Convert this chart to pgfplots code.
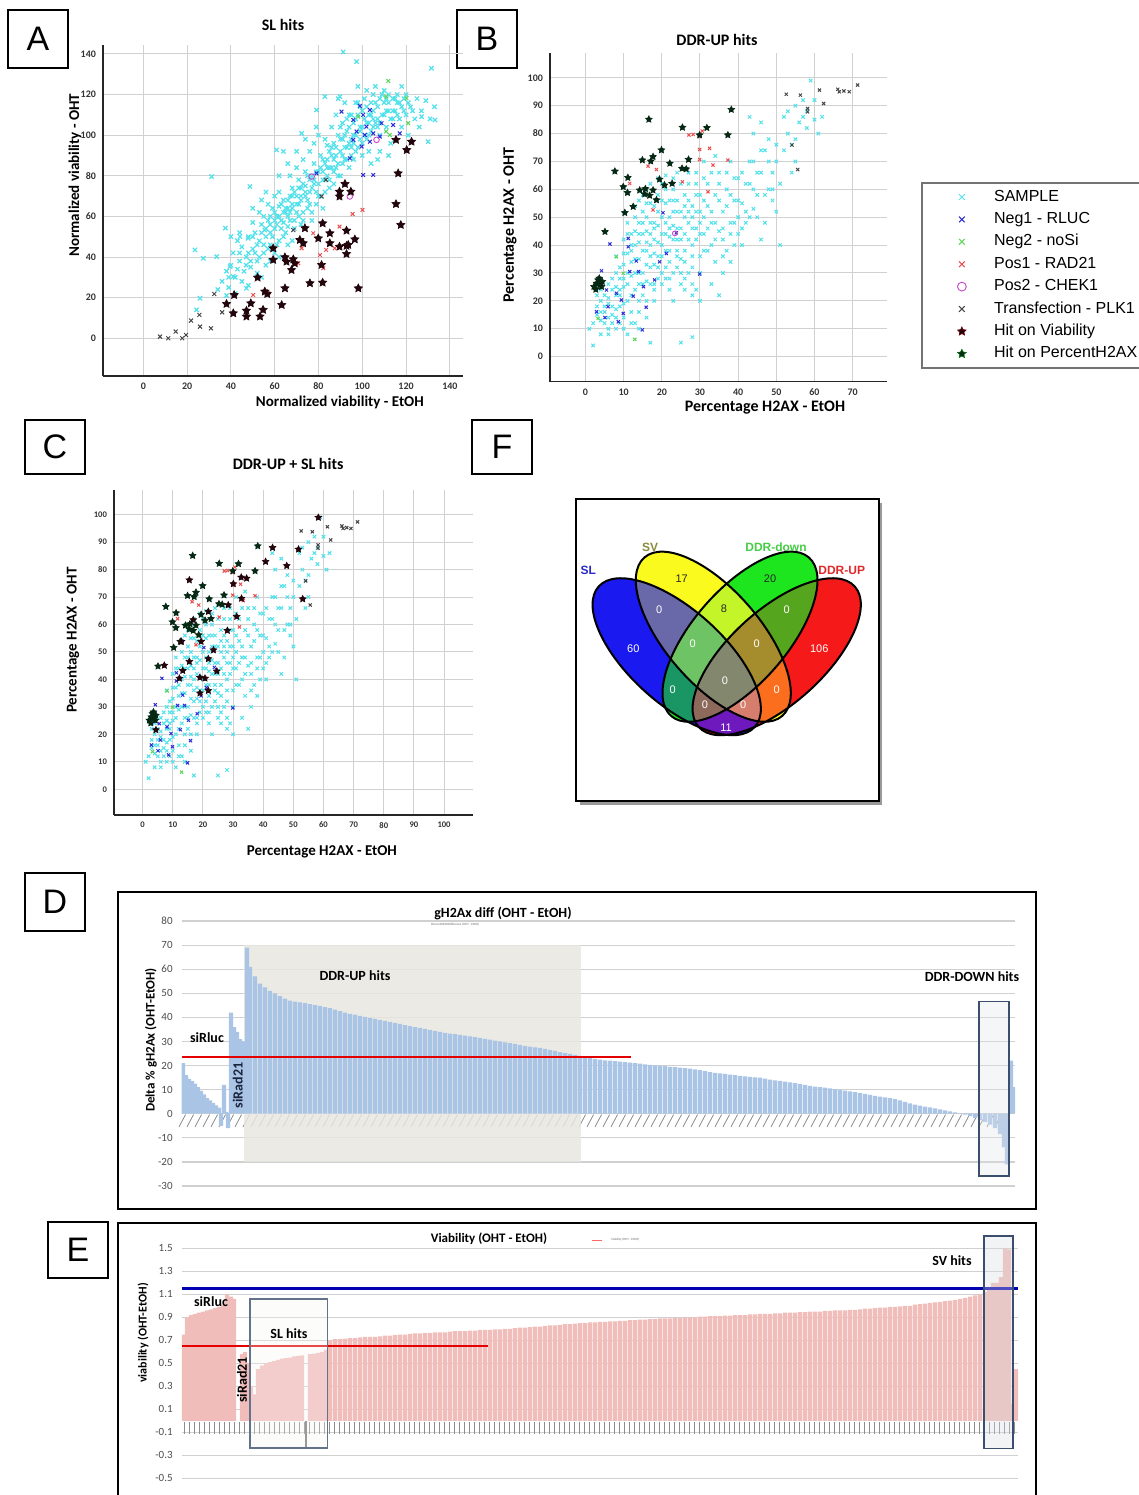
\documentclass[border=0pt]{standalone}
\usepackage{fontspec}
\setmainfont{Carlito}
\newfontfamily\arialf{Liberation Sans}
\usepackage{pgfplots}
\usepackage{pgfplotstable}
\pgfplotsset{compat=1.18}
\newcommand{\fs}[1]{\fontsize{#1}{#1}\selectfont}

\definecolor{cSample}{RGB}{80,225,235}
\definecolor{cNeg1}{RGB}{45,45,215}
\definecolor{cNeg2}{RGB}{90,215,90}
\definecolor{cPos1}{RGB}{235,80,80}
\definecolor{cPos2}{RGB}{200,70,200}
\definecolor{cPLK}{RGB}{70,70,70}
\definecolor{cHitV}{RGB}{35,5,12}
\definecolor{cHitH}{RGB}{5,40,20}
\definecolor{gridc}{RGB}{208,208,208}
\definecolor{barD}{RGB}{170,196,229}
\definecolor{barE}{RGB}{241,189,186}
\definecolor{shadeD}{RGB}{232,230,224}
\definecolor{boxc}{RGB}{60,78,110}
\definecolor{cvSL}{RGB}{25,25,240}
\definecolor{cvSV}{RGB}{250,250,30}
\definecolor{cvDD}{RGB}{30,230,30}
\definecolor{cvDU}{RGB}{245,25,25}
\definecolor{cvSLSV}{RGB}{105,105,170}
\definecolor{cvSVDD}{RGB}{195,245,40}
\definecolor{cvDDDU}{RGB}{85,165,30}
\definecolor{cvSLDD}{RGB}{25,150,100}
\definecolor{cvSVDU}{RGB}{250,110,30}
\definecolor{cvSLDU}{RGB}{110,25,190}
\definecolor{cvSLSVDD}{RGB}{110,195,100}
\definecolor{cvSVDDDU}{RGB}{165,140,45}
\definecolor{cvSLDDDU}{RGB}{140,105,90}
\definecolor{cvSLSVDU}{RGB}{215,125,110}
\definecolor{cvALL}{RGB}{130,135,110}

\pgfdeclareplotmark{fstar}{%
 \pgfpathmoveto{\pgfpointpolar{90}{\pgfplotmarksize}}%
 \pgfpathlineto{\pgfpointpolar{126}{0.5\pgfplotmarksize}}%
 \pgfpathlineto{\pgfpointpolar{162}{\pgfplotmarksize}}%
 \pgfpathlineto{\pgfpointpolar{198}{0.5\pgfplotmarksize}}%
 \pgfpathlineto{\pgfpointpolar{234}{\pgfplotmarksize}}%
 \pgfpathlineto{\pgfpointpolar{270}{0.5\pgfplotmarksize}}%
 \pgfpathlineto{\pgfpointpolar{306}{\pgfplotmarksize}}%
 \pgfpathlineto{\pgfpointpolar{342}{0.5\pgfplotmarksize}}%
 \pgfpathlineto{\pgfpointpolar{18}{\pgfplotmarksize}}%
 \pgfpathlineto{\pgfpointpolar{54}{0.5\pgfplotmarksize}}%
 \pgfpathclose
 \pgfusepathqfillstroke}

\pgfplotsset{
 scat/.style={scale only axis, axis lines=left, axis line style={-,black!85,line width=0.7pt},
   grid=major, major grid style={gridc,line width=0.5pt}, major tick length=0pt,
   tick label style={font=\fs{5}\bfseries, text=black!80},
   /pgf/number format/assume math mode=true, enlargelimits=false,
   every axis title shift=0pt,
   title style={font=\fs{8}\bfseries}, label style={font=\fs{7.5}\bfseries}},
 pS/.style={only marks, mark=x, mark size=1.5pt, color=cSample, mark options={line width=0.6pt}},
 pN1/.style={only marks, mark=x, mark size=1.3pt, color=cNeg1, mark options={line width=0.5pt}},
 pN2/.style={only marks, mark=x, mark size=1.3pt, color=cNeg2, mark options={line width=0.5pt}},
 pP1/.style={only marks, mark=x, mark size=1.3pt, color=cPos1, mark options={line width=0.5pt}},
 pP2/.style={only marks, mark=o, mark size=1.4pt, color=cPos2, mark options={line width=0.45pt}},
 pPLK/.style={only marks, mark=x, mark size=1.4pt, color=cPLK, mark options={line width=0.5pt}},
 pHV/.style={only marks, mark=fstar, mark size=2.1pt, color=cHitV, mark options={line width=0.35pt, fill=cHitV}},
 pHH/.style={only marks, mark=fstar, mark size=1.8pt, color=cHitH, mark options={line width=0.35pt, fill=cHitH}},
 barax/.style={scale only axis, axis x line=middle, axis y line=left, axis line style={draw=none},
   hide obscured x ticks=false, hide obscured y ticks=false,
   ymajorgrids, major grid style={gridc,line width=0.6pt}, major tick length=0pt,
   yticklabel style={font=\fs{5.5}, text=black!70, xshift=-1pt},
   /pgf/number format/assume math mode=true, enlargelimits=false, clip mode=individual},
}

% ---------- shared data of panels B and C (Percentage H2AX EtOH vs OHT)
\pgfplotstableread{
x y
2 12
3 15
3 18
4 13
4 20
5 16
5 22
6 14
6 19
7 12
7 24
8 17
1 10
2 4
4 8
8 22
9 28
9 18
10 33
10 25
11 20
11 37
12 29
12 44
13 24
13 40
14 35
14 48
8 30
10 42
12 16
14 20
9 12
11 8
13 12
15 30
15 52
16 38
16 45
17 26
17 55
18 33
18 48
19 41
19 58
20 36
20 50
15 22
17 44
19 28
16 60
18 20
20 62
14 56
16 14
21 44
21 55
22 38
22 50
23 30
23 60
24 46
24 42
25 52
25 35
26 58
26 44
21 65
23 20
25 26
22 24
24 66
26 38
27 48
27 62
28 40
28 54
29 46
29 66
30 36
30 58
31 50
31 44
32 62
32 54
27 30
29 24
31 70
28 22
30 20
33 48
33 40
34 58
35 45
35 66
36 52
37 38
37 60
38 48
39 56
40 44
34 72
36 36
38 70
40 64
33 26
35 22
39 40
41 55
42 62
42 48
43 70
44 53
45 58
46 42
47 74
48 60
49 66
50 52
44 80
46 84
48 78
41 40
50 70
43 86
51 62
51 40
52 86
53 80
54 66
55 70
56 84
57 92
58 88
58 82
59 99
60 85
55 78
25 5
28 7
17 5
14 10
11 30
12 34
13 45
14 41
15 38
16 33
17 36
18 42
19 47
20 44
21 38
22 43
23 47
24 52
15 44
16 50
17 48
18 54
19 36
20 30
21 32
22 56
23 52
13 30
14 26
16 27
18 26
12 38
10 28
9 24
7 18
6 26
8 36
27 56
28 46
26 50
29 52
30 48
24 36
25 42
5 18
6 21
7 15
7 28
8 25
8 14
9 22
9 32
10 19
10 37
11 26
11 44
12 22
12 40
13 35
13 50
14 30
14 44
15 26
15 48
16 41
16 55
17 32
17 40
18 37
18 46
19 32
19 52
20 40
20 56
21 48
21 28
22 46
22 34
23 42
23 56
24 38
24 56
25 46
25 30
26 54
26 34
27 42
27 52
28 50
28 36
29 42
29 58
30 44
30 52
31 56
31 38
32 46
33 52
34 48
35 56
36 46
37 54
38 58
39 48
40 56
42 52
44 60
46 66
48 70
52 74
54 76
10 14
12 12
14 16
16 20
18 24
20 26
22 28
24 32
26 28
28 32
30 30
32 38
34 42
36 42
38 44
40 50
11 48
13 54
15 58
17 62
19 64
21 60
23 64
25 62
27 66
29 62
31 64
33 66
35 62
37 66
39 64
41 66
43 62
45 66
47 58
49 56
4 16
5 12
6 10
3 22
4 24
6 8
8 10
10 10
26 24
28 26
34 34
36 30
38 34
41 46
43 50
45 50
47 48
49 60
44 70
46 74
50 76
53 88
55 90
57 86
60 92
62 86
61 80
}\tabHsample
\pgfplotstableread{
x y
6.4 40.4
11.2 42.4
11.2 39.4
13.3 34.3
13.9 30.5
15.2 25.1
15.9 17.7
8.1 22.7
5.9 17.9
2.9 16.1
5.1 14.0
9.9 15.5
9.4 20.3
12.5 21.7
20.3 51.6
23.8 44.4
29.9 29.6
14.9 9.6
4.2 30.8
11.6 30.5
18.1 27.5
5.5 23.9
8.6 12.5
19.4 34.0
21.2 37.0
}\tabHneg
\pgfplotstableread{
x y
12.9 6.2
8.1 35.8
3.3 13.7
9.9 29.9
}\tabHnegtwo
\pgfplotstableread{
x y
27.1 79.5
28.2 79.7
29.9 78.9
30.6 80.9
29.9 74.3
32.5 74.7
33.4 68.7
37.3 70.5
18.6 67.1
16.4 68.3
11.6 62.1
32.1 59.1
25.4 62.7
17.7 52.6
29.9 70.7
}\tabHpos
\pgfplotstableread{
x y
52.6 94.1
56.3 93.8
61.3 95.6
62.4 90.8
58.2 89.0
58.2 87.8
66.1 95.9
66.5 95.0
67.7 95.3
69.1 95.0
71.3 97.4
54.1 75.9
55.6 67.1
}\tabHplk
\pgfplotstableread{
x y
38.2 88.6
16.6 85.1
25.4 82.2
31.8 82.1
37.3 79.5
29.9 79.5
19.9 74.1
27.0 70.7
22.1 69.3
14.9 70.5
17.1 70.1
17.7 71.7
7.7 66.5
11.1 64.2
22.7 62.1
19.4 63.6
20.7 61.5
25.3 67.5
26.4 67.3
11.0 58.8
9.9 60.9
14.2 59.7
15.7 60.2
15.5 58.3
17.7 59.7
16.8 57.8
18.6 56.2
12.5 53.8
10.3 51.6
5.1 44.8
3.3 27.5
3.7 25.7
2.7 24.1
4.2 25.1
2.9 26.3
3.6 28.1
2.2 25.1
4.4 26.9
}\tabHhit

\newcommand{\eSL}{[rotate around={-42:(axis cs:676.7,656.7)}] (axis cs:676.7,656.7) ellipse [x radius=52.5pt, y radius=23.5pt]}
\newcommand{\eSV}{[rotate around={-49:(axis cs:713.3,636.7)}] (axis cs:713.3,636.7) ellipse [x radius=52.5pt, y radius=23.5pt]}
\newcommand{\eDD}{[rotate around={49:(axis cs:740,636.7)}] (axis cs:740,636.7) ellipse [x radius=52.5pt, y radius=23.5pt]}
\newcommand{\eDU}{[rotate around={42:(axis cs:776.7,656.7)}] (axis cs:776.7,656.7) ellipse [x radius=52.5pt, y radius=23.5pt]}

\begin{document}
\begin{tikzpicture}
\path[use as bounding box] (0,0) rectangle (569.5pt,-747.5pt);

\begin{scope}[x=0.5pt,y=-0.5pt]
\tikzset{lbox/.style={draw, line width=0.8pt, minimum width=30pt, inner sep=0pt, font=\arialf\fs{17}}}
\node[lbox, minimum height=29pt] at (38,39) {A};
\node[lbox, minimum height=29pt] at (487,39) {B};
\node[lbox, minimum height=27pt] at (55,447) {C};
\node[lbox, minimum height=27pt] at (502,447) {F};
\node[lbox, minimum height=29pt] at (55,902) {D};
\node[lbox, minimum height=28pt] at (78,1250) {E};
\draw[line width=1.3pt] (118,892) rectangle (1036,1209);
\draw[line width=1.3pt] (118,1223) rectangle (1036,1510);
\fill[black!40] (580,503) rectangle (882,805);
\filldraw[fill=white, draw=black, line width=1.1pt] (576,499) rectangle (879,801);
\end{scope}

% ================= Panel A
\begin{axis}[scat, at={(51.5pt,-188pt)}, anchor=south west, width=180pt, height=165.5pt,
  xmin=-18.4, xmax=146, ymin=-18.6, ymax=144.4, xtick={0,20,...,140}, ytick={0,20,...,140},
  title={SL hits}, xlabel={Normalized viability - EtOH}, ylabel={Normalized viability - OHT},
  title style={at={(axis description cs:0.5,1.06)}, anchor=center},
  xlabel style={at={(axis description cs:0.658,-0.0785)}, anchor=center},
  ylabel style={at={(axis description cs:-0.078,0.607)}, anchor=center}]
\addplot[pS] table {
x y
36 28
38 33
40 36
42 30
44 38
41 42
45 45
39 25
43 48
46 33
47 40
48 50
50 44
51 52
52 38
53 48
54 56
55 42
49 35
55 60
53 62
50 57
56 50
57 58
58 46
59 64
60 54
61 60
62 48
63 66
64 57
65 62
57 66
60 70
62 72
58 52
64 50
66 55
66 68
67 62
68 74
69 58
70 66
71 78
72 70
73 62
74 75
75 68
67 80
70 84
72 56
74 82
68 64
73 88
71 60
76 72
77 80
78 86
79 66
80 76
81 90
82 82
83 72
84 88
85 78
76 92
78 96
80 100
82 64
84 95
77 58
79 104
83 98
85 84
86 90
87 96
88 84
89 100
90 92
91 106
92 88
93 102
94 96
95 110
86 104
88 110
90 80
92 116
94 84
87 76
91 98
95 90
89 118
93 108
96 100
97 108
98 94
99 114
100 104
101 118
102 98
103 110
104 102
105 120
96 88
98 124
100 90
102 122
104 86
97 116
99 98
103 92
101 108
105 112
106 106
107 114
108 100
109 120
110 110
111 104
112 116
113 96
114 108
115 118
106 124
108 92
110 122
112 90
114 112
107 88
116 110
117 116
118 104
119 112
120 120
121 100
122 114
124 108
118 124
125 118
127 112
129 117
131 108
133 114
126 104
45 28
48 26
52 32
54 30
58 38
60 42
56 36
62 40
66 46
68 48
42 22
38 21
34 24
40 50
44 52
50 64
56 72
62 80
66 86
70 92
74 98
64 92
60.9 92.7
72.3 100.9
79.1 112.4
82.9 119
89.8 119
91.3 141
97.4 136.2
131.6 132.9
127.1 109.1
133.2 107.5
130.1 96.8
31.2 79.6
23.6 43.5
27.4 39.4
33.5 40.2
37.5 54.2
25.9 19.7
24.3 14
39.6 35.3
44.1 50.1
47.9 49.2
41.1 30.4
47.1 24.6
55.5 53.3
54 68.1
48.7 74.7
58 60
60 62
61 56
62 65
63 58
64 68
65 64
66 60
67 70
68 66
69 72
70 62
71 74
72 68
73 76
74 70
75 80
76 66
77 74
78 78
79 82
80 70
81 84
82 78
83 86
84 80
85 92
86 84
87 88
88 94
89 86
90 98
91 90
92 100
93 94
94 104
95 98
96 106
97 100
98 110
99 104
100 112
101 100
102 114
103 106
104 116
105 108
106 116
107 104
108 118
109 110
110 116
111 112
112 120
113 108
114 118
115 112
116 120
117 108
118 114
119 118
120 110
121 116
123 112
102 106
96 96
92 94
88 90
84 84
80 82
76 78
72 74
68 70
64 62
60 58
56 54
52 46
48 42
44 42
50 50
54 52
58 56
62 60
66 64
70 70
74 72
78 76
82 88
86 94
90 104
94 110
98 116
100 96
104 110
108 106
112 112
116 116
87 82
83 78
79 72
75 64
71 66
67 58
63 54
59 50
55 46
51 42
47 36
43 34
39 30
91 86
95 94
99 102
103 100
107 108
111 118
105 104
97 92
93 88
89 80
85 74
81 70
77 62
73 58
69 54
65 52
61 46
57 44
53 40
49 38
};
\addplot[pN1] table {
x y
98.9 114.4
103.5 112.4
90.5 111.6
100.4 110
95.9 107.5
101.9 104.2
97.4 101.8
101.2 100.1
105 100.9
108 99.3
95.9 97.7
103.5 96.8
99.7 94.4
94.3 88.6
108.8 105.9
114.1 105
117.1 100.9
100.4 80.4
105 80.4
79.1 81.2
};
\addplot[pN2] table {
x y
111.9 126.7
110.9 119
120.2 118.2
121 105.9
98.2 109.1
110.9 101.8
112.6 100.1
};
\addplot[pP1] table {
x y
100.1 63.2
95.6 61.2
89.6 55
77.6 51.7
72.3 44.3
80.7 41
83.5 43.5
87.4 44.3
82.2 34.5
50.2 21.3
57.1 22.2
70.8 36.9
};
\addplot[pP2] table {
x y
76.9 79.6
94.3 69.8
106.5 97.7
};
\addplot[pPLK] table {
x y
7.6 0.8
11.4 0
14.8 3.3
17.8 0
19.5 1.6
21.8 8.7
25.6 11.5
25.9 5.7
30.9 4.9
32.4 21.8
36 12.8
68.5 53.3
81.4 69.8
83.4 78
};
\addplot[pHV] table {
x y
115.4 97.7
120.3 92.7
122.5 96.8
116.4 81.2
92.1 76
89.6 72.2
94.8 72.2
89.6 69.8
115.4 66.1
117.6 55.8
81.9 56.6
73.8 54.2
85.2 51.7
92.8 53
71.5 48.4
79.9 49.2
85.2 46.8
96.6 48.7
89.6 45.1
92.8 45.5
93.6 46
92.8 41.5
73 46.8
59.3 44.3
64.7 39.9
65.4 37.7
68.5 38.9
69.2 36.9
59.3 38.6
67.7 33.6
81.4 36.1
76.1 27.1
81.9 27.4
98.2 24.6
64.7 24.6
52.2 29.9
55.5 23
56.6 21.8
41.5 21.3
49.1 17.2
38 16.9
41.1 12.3
47.1 13.6
47.1 10.7
54.7 14
53.3 10.7
63.2 16.4
};
\end{axis}

% ================= Panel B
\begin{axis}[scat, at={(275pt,-190.85pt)}, anchor=south west, width=168.5pt, height=164.35pt,
  xmin=-9.3, xmax=79, ymin=-9, ymax=108.9, xtick={0,10,...,70}, ytick={0,10,...,100},
  title={DDR-UP hits}, xlabel={Percentage H2AX - EtOH}, ylabel={Percentage H2AX - OHT},
  label style={font=\fs{8}\bfseries},
  title style={at={(axis description cs:0.4955,1.04)}, anchor=center},
  xlabel style={at={(axis description cs:0.638,-0.08)}, anchor=center},
  ylabel style={at={(axis description cs:-0.119,0.477)}, anchor=center},
  legend image code/.code={\draw[#1] plot coordinates {(0.25cm,0cm)}; \path (0cm,0cm) (0.5cm,0cm);},
  legend style={at={(axis description cs:1.101,0.6075)}, anchor=north west, draw=black!55,
    line width=0.8pt, font=\arialf\fs{8}, inner xsep=12.5pt, inner ysep=3pt, row sep=3pt,
    nodes={inner sep=0.6pt, text height=5.5pt, text depth=1.5pt},
    /tikz/every odd column/.append style={column sep=8pt}},
  legend cell align=left]
\addplot[pS, mark size=1.2pt, mark options={line width=0.5pt}, forget plot] table {\tabHsample};
\addplot[pN1, mark size=1.1pt, forget plot] table {\tabHneg};
\addplot[pN2, mark size=1.1pt, forget plot] table {\tabHnegtwo};
\addplot[pP1, mark size=1.1pt, forget plot] table {\tabHpos};
\addplot[pP2, mark size=1.2pt, forget plot] coordinates {(23.4,44.2)};
\addplot[pPLK, mark size=1.1pt, forget plot] table {\tabHplk};
\addplot[pHH, mark size=1.7pt, forget plot] table {\tabHhit};
\addlegendimage{pS, mark size=2pt, mark options={line width=0.45pt}}
\addlegendentry{SAMPLE}
\addlegendimage{pN1, mark size=2pt}
\addlegendentry{Neg1 - RLUC}
\addlegendimage{pN2, mark size=2pt}
\addlegendentry{Neg2 - noSi}
\addlegendimage{pP1, mark size=2pt}
\addlegendentry{Pos1 - RAD21}
\addlegendimage{pP2, mark size=2.2pt}
\addlegendentry{Pos2 - CHEK1}
\addlegendimage{pPLK, mark size=2pt}
\addlegendentry{Transfection - PLK1}
\addlegendimage{pHV, mark size=2.2pt, color=cHitV!70!red}
\addlegendentry{Hit on Viability}
\addlegendimage{pHH, mark size=2.2pt, color=cHitH!70!green}
\addlegendentry{Hit on PercentH2AX}
\end{axis}

% ================= Panel C
\begin{axis}[scat, at={(57pt,-407.5pt)}, anchor=south west, width=179.5pt, height=162.5pt,
  xmin=-9.5, xmax=109.6, ymin=-9.4, ymax=109, xtick={0,10,...,100}, ytick={0,10,...,100},
  tick label style={font=\fs{4.3}\bfseries},
  title={DDR-UP + SL hits}, xlabel={Percentage H2AX - EtOH}, ylabel={Percentage H2AX - OHT},
  title style={at={(axis description cs:0.485,1.08)}, anchor=center},
  xlabel style={at={(axis description cs:0.579,-0.114)}, anchor=center},
  ylabel style={at={(axis description cs:-0.114,0.538)}, anchor=center}]
\addplot[pS, mark size=1.2pt, mark options={line width=0.5pt}] table {\tabHsample};
\addplot[pN1, mark size=1.1pt] table {\tabHneg};
\addplot[pN2, mark size=1.1pt] table {\tabHnegtwo};
\addplot[pP1, mark size=1.1pt] table {\tabHpos};
\addplot[pPLK, mark size=1.1pt] table {\tabHplk};
\addplot[pHH, mark size=1.7pt] table {\tabHhit};
\addplot[pHV, mark size=1.7pt] table {
x y
58.3 99
43.1 88
51.7 87.4
40.8 82.9
47.8 81.4
34.5 76.8
32.7 77.2
30.1 74.8
15.5 76.2
53.1 69.3
21.8 64.7
31.2 62.9
28.1 57.8
12.9 53.8
19.4 53.8
23.5 50.7
21.8 47.5
15.5 46.5
7.2 45.1
13.3 43.2
12.2 40.4
19 40.7
20.7 40.4
24.6 43
21.8 35.9
19 35
4.4 21.6
16.8 61.7
32.8 69.5
28.4 67.1
};
\end{axis}

% ================= Panel F (Venn)
\begin{axis}[scale only axis, hide axis, at={(288pt,-400.5pt)}, anchor=south west,
  width=151.5pt, height=151pt, xmin=576, xmax=879, ymin=499, ymax=801, y dir=reverse, clip=false]
\addplot[draw=none, forget plot] coordinates {(576,499) (879,801)};
\fill[cvSL] \eSL;
\fill[cvSV] \eSV;
\fill[cvDD] \eDD;
\fill[cvDU] \eDU;
\begin{scope}\clip \eSL; \fill[cvSLSV] \eSV; \end{scope}
\begin{scope}\clip \eSL; \fill[cvSLDD] \eDD; \end{scope}
\begin{scope}\clip \eSL; \fill[cvSLDU] \eDU; \end{scope}
\begin{scope}\clip \eSV; \fill[cvSVDD] \eDD; \end{scope}
\begin{scope}\clip \eSV; \fill[cvSVDU] \eDU; \end{scope}
\begin{scope}\clip \eDD; \fill[cvDDDU] \eDU; \end{scope}
\begin{scope}\clip \eSL; \clip \eSV; \fill[cvSLSVDD] \eDD; \end{scope}
\begin{scope}\clip \eSL; \clip \eSV; \fill[cvSLSVDU] \eDU; \end{scope}
\begin{scope}\clip \eSL; \clip \eDD; \fill[cvSLDDDU] \eDU; \end{scope}
\begin{scope}\clip \eSV; \clip \eDD; \fill[cvSVDDDU] \eDU; \end{scope}
\begin{scope}\clip \eSL; \clip \eSV; \clip \eDD; \fill[cvALL] \eDU; \end{scope}
\draw[black, line width=1pt] \eSL;
\draw[black, line width=1pt] \eSV;
\draw[black, line width=1pt] \eDD;
\draw[black, line width=1pt] \eDU;
\tikzset{vn/.style={font=\arialf\fs{5.5}, text=white}, vd/.style={font=\arialf\fs{5.5}, text=black!85}}
\node[font=\arialf\bfseries\fs{6}, text={rgb,255:red,40;green,40;blue,200}] at (axis cs:588.3,570) {SL};
\node[font=\arialf\bfseries\fs{6}, text={rgb,255:red,140;green,140;blue,60}] at (axis cs:650,547.3) {SV};
\node[font=\arialf\bfseries\fs{6}, text={rgb,255:red,70;green,205;blue,70}] at (axis cs:776,547.3) {DDR-down};
\node[font=\arialf\bfseries\fs{6}, text={rgb,255:red,225;green,40;blue,40}] at (axis cs:841.7,570) {DDR-UP};
\node[vd] at (axis cs:681.7,578.3) {17};
\node[vd] at (axis cs:770,578.3) {20};
\node[vn] at (axis cs:659.3,609.3) {0};
\node[vd] at (axis cs:724,608.3) {8};
\node[vn] at (axis cs:786.7,609.3) {0};
\node[vn] at (axis cs:633.3,648.3) {60};
\node[vn] at (axis cs:692.7,643.3) {0};
\node[vn] at (axis cs:756.7,643.3) {0};
\node[vn] at (axis cs:819.3,648.3) {106};
\node[vn] at (axis cs:725,680.7) {0};
\node[vn] at (axis cs:672.7,689.3) {0};
\node[vn] at (axis cs:776.7,689.3) {0};
\node[vn] at (axis cs:705,705) {0};
\node[vn] at (axis cs:743.3,705) {0};
\node[vn] at (axis cs:726,727.3) {11};
\end{axis}

% ================= Panel D
\begin{axis}[barax, at={(90.85pt,-593pt)}, anchor=south west, width=416.65pt, height=132.5pt,
  xmin=181.7, xmax=1015, ymin=-30, ymax=80, ytick={-30,-20,...,80},
  xtick={186,194,...,1010}, xticklabel={\textcolor{black!45}{\rule{7pt}{0.4pt}}},
  xticklabel style={rotate=62, anchor=east, inner sep=0.3pt}]
\fill[shadeD, fill opacity=0.85] (axis cs:244,-20) rectangle (axis cs:581,70);
\addplot[ybar, bar width=4.2, fill=barD, draw=none] table {
x y
183 21
186 16
189 14.5
192 13.5
195 12.5
198 11
201 9.5
204 8
207 6.5
210 5.5
213 4.5
216 3.5
219 2.5
221 -5
224 12
226 0.8
228 -6
231 42
234 36
237 34
240 31
243 30
247 69
250 61
255 57
260 54
265 52.5
270 51
275 50
280 48.8
285 47.8
290 47
295 46.5
300 46.2
305 45.9
310 45.5
315 45.1
320 44.8
325 44.3
330 43.8
335 43.2
340 42.6
345 42
350 41.5
355 41.1
360 40.6
365 40.2
370 39.8
375 39.4
380 39
385 38.6
390 38.1
395 37.7
400 37.3
405 36.8
410 36.4
415 36
420 35.6
425 35.2
430 34.8
435 34.4
440 34
445 33.6
450 33.3
455 33
460 32.7
465 32.4
470 32.1
475 31.8
480 31.5
485 31.1
490 30.8
495 30.4
500 30
505 29.6
510 29.3
515 29
520 28.6
525 28.2
530 27.9
535 27.6
540 27.3
545 26.9
550 26.5
555 26.1
560 25.6
565 25.2
570 24.8
575 24.4
580 24
585 23.6
590 23.2
595 22.8
600 22.5
605 22.2
610 22
615 21.8
620 21.6
625 21.4
630 21.2
635 21
640 20.8
645 20.5
650 20.3
655 20.1
660 20
665 19.8
670 19.5
675 19.3
680 19.1
685 18.9
690 18.7
695 18.4
700 18.1
705 17.7
710 17.3
715 17
720 16.8
725 16.5
730 16.2
735 16
740 15.7
745 15.5
750 15.3
755 15.1
760 15
765 14.6
770 14.2
775 13.9
780 13.6
785 13.3
790 13
795 12.7
800 12.4
805 12
810 11.6
815 11.3
820 11
825 10.8
830 10.5
835 10.2
840 9.9
845 9.6
850 9.3
855 9
860 8.6
865 8.2
870 7.8
875 7.4
880 7.1
885 6.8
890 6.5
895 6.1
900 5.6
905 4.9
910 4.3
915 3.8
920 3.4
925 3
930 2.6
935 2.2
940 1.8
945 1.4
950 1
955 0.6
960 0.2
965 -0.4
970 -1
975 -1.7
980 -2.5
985 -3.4
990 -4.5
995 -6
1000 -8.5
1004 -14
1007 -21
1011 22
1014 11
};
\addplot[red!90!black, line width=1.3pt] coordinates {(182,23.5) (631,23.5)};
\draw[boxc, line width=0.9pt, fill=boxc!15, fill opacity=0.35] (axis cs:979,-26) rectangle (axis cs:1009,46.6);
\end{axis}

% ================= Panel E
\begin{axis}[barax, at={(90.85pt,-739.15pt)}, anchor=south west, width=418.15pt, height=120.75pt,
  xmin=181.7, xmax=1018, ymin=-0.5, ymax=1.6,
  ytick={-0.5,-0.3,-0.1,0.1,0.3,0.5,0.7,0.9,1.1,1.3,1.5},
  yticklabel style={/pgf/number format/.cd, fixed, fixed zerofill, precision=1},
  xtick={184,189,...,1014}, xticklabel={\textcolor{black!45}{\rule{6pt}{0.4pt}}},
  xticklabel style={rotate=90, anchor=east, inner sep=0.5pt}]
\addplot[ybar, bar width=4.2, fill=barE, draw=none] table {
x y
184 0.75
187 0.9
191 0.92
195 0.93
199 0.94
203 0.95
207 0.96
211 0.97
215 0.98
219 0.99
223 1.01
227 1.1
231 1.08
234 1.06
242 0.58
245 0.6
248 0.5
251 0.3
254 0.23
258 0.45
262 0.48
266 0.5
270 0.51
274 0.52
278 0.53
282 0.54
286 0.545
290 0.55
294 0.56
298 0.565
302 0.57
310 0.58
314 0.585
318 0.59
322 0.6
326 0.62
330 0.70
335 0.71
340 0.71
345 0.715
350 0.72
355 0.72
360 0.725
365 0.73
370 0.73
375 0.73
380 0.735
385 0.74
390 0.74
395 0.745
400 0.75
405 0.75
410 0.755
415 0.76
420 0.76
425 0.765
430 0.765
435 0.77
440 0.77
445 0.77
450 0.775
455 0.78
460 0.78
465 0.78
470 0.785
475 0.785
480 0.79
485 0.79
490 0.79
495 0.795
500 0.795
505 0.8
510 0.8
515 0.805
520 0.81
525 0.81
530 0.815
535 0.82
540 0.82
545 0.825
550 0.83
555 0.83
560 0.835
565 0.84
570 0.84
575 0.845
580 0.85
585 0.85
590 0.855
595 0.855
600 0.86
605 0.86
610 0.865
615 0.865
620 0.87
625 0.87
630 0.875
635 0.875
640 0.88
645 0.88
650 0.885
655 0.885
660 0.89
665 0.89
670 0.89
675 0.895
680 0.895
685 0.9
690 0.9
695 0.9
700 0.905
705 0.905
710 0.91
715 0.91
720 0.91
725 0.915
730 0.915
735 0.92
740 0.92
745 0.92
750 0.925
755 0.925
760 0.93
765 0.93
770 0.93
775 0.935
780 0.935
785 0.94
790 0.94
795 0.94
800 0.945
805 0.945
810 0.95
815 0.95
820 0.95
825 0.955
830 0.955
835 0.96
840 0.96
845 0.96
850 0.965
855 0.965
860 0.97
865 0.975
870 0.975
875 0.98
880 0.985
885 0.985
890 0.99
895 0.99
900 0.995
905 1.0
910 1.0
915 1.01
920 1.015
925 1.02
930 1.025
935 1.03
940 1.035
945 1.04
950 1.045
955 1.05
960 1.06
965 1.07
970 1.08
975 1.09
980 1.1
985 1.12
989 1.15
993 1.2
997 1.2
1001 1.25
1005 1.5
1009 1.49
1013 0.15
1016 0.45
};
\addplot[ybar, bar width=1.2, fill=black!55, draw=none] coordinates {(306,-0.24)};
\addplot[blue!70!black, line width=1.3pt] coordinates {(182,1.152) (1018,1.152)};
\addplot[red!90!black, line width=1.3pt] coordinates {(182,0.65) (488,0.65)};
\draw[boxc!80, line width=0.8pt, fill=yellow!10!gray!10, fill opacity=0.3] (axis cs:250,-0.234) rectangle (axis cs:327.3,1.06);
\draw[boxc, line width=0.9pt, fill=boxc!20, fill opacity=0.35] (axis cs:984.3,-0.24) rectangle (axis cs:1012.7,1.607);
\end{axis}

% ================= annotations of D and E
\begin{scope}[x=0.5pt,y=-0.5pt]
\node[font=\fs{7}\bfseries] at (503,913) {gH2Ax diff (OHT - EtOH)};
\node[font=\fs{1.6}, text=black!60] at (455,925) {PercentH2AXDifference (OHT - EtOH)};
\node[font=\fs{7}\bfseries] at (355,976) {DDR-UP hits};
\node[font=\fs{7}\bfseries] at (972,977) {DDR-DOWN hits};
\node[font=\fs{7}\bfseries] at (207,1038) {siRluc};
\node[font=\fs{7}\bfseries, rotate=90, text={rgb,255:red,25;green,35;blue,60}] at (237.7,1085.5) {siRad21};
\node[font=\fs{6.5}\bfseries, rotate=90] at (151,1040) {Delta \% gH2Ax (OHT-EtOH)};
\node[font=\fs{6.5}\bfseries] at (489,1239) {Viability (OHT - EtOH)};
\draw[red!60, line width=0.4pt] (592,1240) -- (602,1240);
\node[font=\fs{1.6}, text=black!60, anchor=west] at (604,1240) {Viability (OHT - EtOH)};
\node[font=\fs{7}\bfseries] at (211,1302) {siRluc};
\node[font=\fs{7}\bfseries] at (289,1334) {SL hits};
\node[font=\fs{7}\bfseries, rotate=90] at (242,1380) {siRad21};
\node[font=\fs{7}\bfseries] at (952,1261) {SV hits};
\node[font=\fs{6}\bfseries, rotate=90] at (143,1333) {viability (OHT-EtOH)};
\end{scope}
\end{tikzpicture}
\end{document}
